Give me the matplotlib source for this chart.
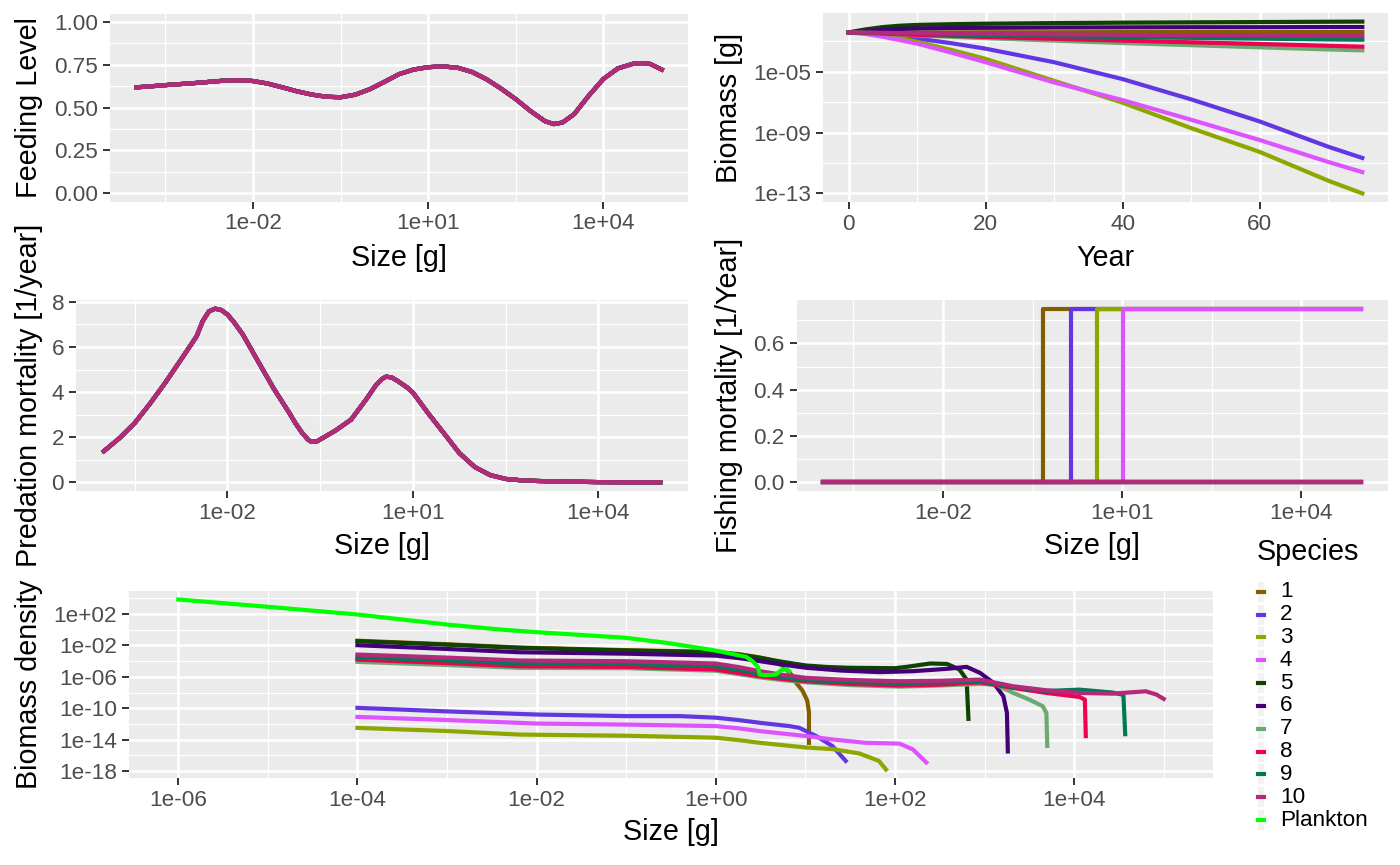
import numpy as np
import matplotlib
matplotlib.use("Agg")
import matplotlib.pyplot as plt
from matplotlib.patches import Rectangle
from matplotlib.lines import Line2D
from matplotlib.ticker import FixedLocator, FuncFormatter, NullFormatter

plt.rcParams['font.family'] = ['Liberation Sans', 'DejaVu Sans']

W, H = 1400, 865

species = ["1", "2", "3", "4", "5", "6", "7", "8", "9", "10"]
colours = ["#815F00", "#6237E2", "#8DA600", "#DE53FF", "#0E4300",
           "#430079", "#6CAA72", "#EE0053", "#007957", "#B42979"]
plankton_colour = "#00FF00"

# feeding level (same curve for every species), size as log10(w)
feed_logw = [-4.0, -3.75, -3.5, -3.25, -3.0, -2.75, -2.5, -2.25, -2.0, -1.75,
             -1.5, -1.25, -1.0, -0.75, -0.5, -0.25, 0.0, 0.25, 0.5, 0.75,
             1.0, 1.25, 1.5, 1.75, 2.0, 2.25, 2.5, 2.75, 3.0, 3.15,
             3.3, 3.5, 3.75, 4.0, 4.25, 4.5, 4.65, 4.8, 5.0]
feed_level = [0.618, 0.624, 0.631, 0.637, 0.643, 0.650, 0.657, 0.660, 0.655, 0.640,
              0.618, 0.595, 0.576, 0.563, 0.560, 0.575, 0.607, 0.650, 0.695, 0.722,
              0.736, 0.740, 0.733, 0.708, 0.665, 0.610, 0.549, 0.480, 0.420, 0.403,
              0.412, 0.461, 0.569, 0.667, 0.729, 0.755, 0.760, 0.755, 0.722]

# predation mortality
pred_logw = [-4.0, -3.75, -3.5, -3.25, -3.0, -2.75, -2.5, -2.4, -2.3, -2.2,
             -2.1, -2.0, -1.9, -1.75, -1.5, -1.25, -1.0, -0.9, -0.8, -0.7,
             -0.64, -0.55, -0.45, -0.25, 0.0, 0.25, 0.4, 0.5, 0.56, 0.65,
             0.75, 0.9, 1.0, 1.25, 1.5, 1.75, 2.0, 2.25, 2.5, 2.75,
             3.0, 3.5, 4.0, 4.5, 5.0]
pred_mort = [1.38, 1.95, 2.63, 3.50, 4.44, 5.45, 6.47, 7.15, 7.58, 7.70,
             7.64, 7.44, 7.12, 6.55, 5.34, 4.15, 3.08, 2.62, 2.22, 1.90,
             1.79, 1.82, 1.98, 2.30, 2.78, 3.70, 4.30, 4.58, 4.68, 4.66,
             4.50, 4.22, 3.98, 3.05, 2.18, 1.30, 0.68, 0.32, 0.15, 0.09,
             0.06, 0.03, 0.01, 0.0, 0.0]

# fishing mortality: knife-edge sizes (log10 g) for species 1-4
fish_knife = [-0.32, 0.137, 0.58, 1.01]
fish_level = 0.75
fish_range = [-4.0, 5.0]

# biomass through time, log10(g)
years = [0, 2.5, 5, 7.5, 10, 15, 20, 30, 40, 50, 60, 70, 75]
biomass = [
    [-2.42, -2.42, -2.42, -2.42, -2.42, -2.42, -2.41, -2.41, -2.40, -2.40, -2.40, -2.40, -2.40],
    [-2.42, -2.46, -2.55, -2.68, -2.82, -3.13, -3.49, -4.38, -5.49, -6.82, -8.27, -9.93, -10.67],
    [-2.42, -2.47, -2.60, -2.80, -3.04, -3.57, -4.16, -5.60, -7.04, -8.71, -10.27, -12.16, -13.00],
    [-2.42, -2.53, -2.71, -2.93, -3.16, -3.75, -4.38, -5.71, -6.87, -8.16, -9.49, -10.93, -11.60],
    [-2.42, -2.22, -2.07, -1.98, -1.93, -1.88, -1.85, -1.81, -1.78, -1.76, -1.74, -1.72, -1.71],
    [-2.42, -2.32, -2.25, -2.19, -2.16, -2.13, -2.12, -2.10, -2.09, -2.08, -2.08, -2.07, -2.07],
    [-2.42, -2.47, -2.52, -2.57, -2.62, -2.71, -2.80, -2.96, -3.12, -3.26, -3.40, -3.54, -3.60],
    [-2.42, -2.46, -2.50, -2.54, -2.58, -2.65, -2.72, -2.84, -2.96, -3.07, -3.18, -3.30, -3.36],
    [-2.42, -2.44, -2.47, -2.50, -2.52, -2.56, -2.60, -2.67, -2.73, -2.78, -2.83, -2.88, -2.90],
    [-2.42, -2.43, -2.45, -2.47, -2.48, -2.50, -2.52, -2.55, -2.58, -2.60, -2.62, -2.65, -2.66],
]

# biomass density spectra, log10(w) and log10(density)
dens_w1 = [-4, -3, -2.19, -1, 0, 0.25, 0.49, 0.6, 0.75, 0.85, 0.9, 0.97, 1.02, 1.04, 1.04]
dens_n1 = [-1.40, -1.85, -2.27, -2.60, -2.83, -3.1, -3.52, -3.8, -4.6, -5.8, -6.8, -7.8, -9.0, -10.5, -14.4]
dens_w2 = [-4, -3, -2, -1, -0.4, 0, 0.25, 0.49, 0.82, 0.93, 1.12, 1.3, 1.45]
dens_n2 = [-9.95, -10.4, -10.8, -11.0, -11.0, -11.2, -11.5, -11.85, -12.27, -12.48, -13.54, -14.8, -16.7]
dens_w3 = [-4, -3, -2.19, -1, 0, 0.25, 0.49, 1.01, 1.3, 1.6, 1.82, 1.9]
dens_n3 = [-12.5, -12.9, -13.35, -13.5, -13.75, -14.05, -14.4, -15.0, -15.2, -15.75, -16.7, -17.8]
dens_w4 = [-4, -3, -2, -1, 0, 0.25, 0.49, 1.01, 1.3, 1.67, 2.05, 2.2, 2.35]
dens_n4 = [-11.1, -11.5, -11.95, -12.08, -12.27, -12.55, -12.91, -13.54, -13.97, -14.4, -14.5, -15.24, -16.9]
dens_w5 = [-4, -3, -2.19, -1, 0, 0.25, 0.49, 0.75, 1.01, 1.25, 1.5, 2.0, 2.13, 2.39, 2.58, 2.72, 2.8, 2.82]
dens_n5 = [-1.46, -1.9, -2.31, -2.65, -2.87, -3.15, -3.58, -4.1, -4.56, -4.75, -4.85, -4.9, -4.73, -4.3, -4.35, -5.07, -6.35, -11.35]
dens_w6 = [-4, -3, -2.19, -1, 0, 0.25, 0.49, 0.75, 1.01, 1.4, 1.83, 2.2, 2.58, 2.8, 2.95, 3.1, 3.21, 3.25, 3.26]
dens_n6 = [-1.97, -2.45, -2.87, -3.05, -3.3, -3.6, -4.0, -4.45, -4.85, -5.2, -5.4, -5.28, -4.98, -4.73, -5.5, -6.77, -8.47, -10.6, -15.5]
dens_w7 = [-4, -3, -2.19, -1, 0, 0.25, 0.49, 0.75, 1.01, 1.5, 2.05, 2.5, 2.95, 3.13, 3.32, 3.5, 3.65, 3.69, 3.7]
dens_n7 = [-4.09, -4.5, -4.86, -4.9, -5.22, -5.65, -6.07, -6.42, -6.7, -7.05, -7.25, -7.1, -6.9, -7.0, -8.05, -8.9, -9.74, -10.6, -14.8]
dens_w8 = [-4, -3, -2.19, -1, 0, 0.25, 0.49, 0.75, 1.01, 1.5, 2.05, 2.5, 2.95, 3.32, 3.69, 4.06, 4.12, 4.13]
dens_n8 = [-3.8, -4.25, -4.65, -4.73, -5.07, -5.5, -5.92, -6.28, -6.56, -6.9, -7.11, -7.0, -6.7, -7.42, -8.05, -8.56, -8.9, -13.54]
dens_w9 = [-4, -3, -2.19, -1, 0, 0.25, 0.49, 0.75, 1.01, 1.5, 2.05, 2.5, 2.95, 3.32, 3.69, 4.06, 4.43, 4.55, 4.57]
dens_n9 = [-3.5, -3.9, -4.3, -4.35, -4.65, -5.1, -5.6, -6.05, -6.4, -6.65, -6.8, -6.7, -6.55, -7.3, -7.8, -7.63, -8.0, -8.3, -13.3]
dens_w10 = [-4, -3, -2.19, -1, 0, 0.25, 0.49, 0.75, 1.01, 1.5, 2.05, 2.5, 2.95, 3.32, 3.69, 4.06, 4.43, 4.8, 4.92, 5.0]
dens_n10 = [-3.16, -3.55, -3.92, -4.01, -4.3, -4.75, -5.28, -5.75, -6.13, -6.4, -6.56, -6.5, -6.35, -7.2, -7.71, -8.05, -8.14, -7.84, -8.26, -8.81]
plank_w = [-6, -5, -4, -3, -2.41, -2, -1, -0.55, 0, 0.34, 0.41, 0.47, 0.49, 0.56, 0.67, 0.73, 0.78, 0.82]
plank_n = [3.85, 2.92, 1.94, 0.66, 0.03, -0.31, -1.03, -1.67, -2.65, -3.46, -4.01, -4.73, -5.7, -5.79, -5.7, -5.15, -4.98, -5.28]

dens_w = [dens_w1, dens_w2, dens_w3, dens_w4, dens_w5, dens_w6, dens_w7, dens_w8, dens_w9, dens_w10]
dens_n = [dens_n1, dens_n2, dens_n3, dens_n4, dens_n5, dens_n6, dens_n7, dens_n8, dens_n9, dens_n10]

LW = 3.0
TITLE = 20.7
TICK = 16.2

fig = plt.figure(figsize=(W / 100, H / 100), dpi=100)


def panel(x0, y0, x1, y1):
    ax = fig.add_axes([x0 / W, 1 - y1 / H, (x1 - x0) / W, (y1 - y0) / H])
    ax.set_facecolor("#EBEBEB")
    for s in ax.spines.values():
        s.set_visible(False)
    ax.set_axisbelow(True)
    ax.grid(which='major', color='white', lw=1.8)
    ax.grid(which='minor', color='white', lw=0.9)
    ax.tick_params(which='major', length=5, width=1.4, color='#333333',
                   labelsize=TICK, labelcolor='#4D4D4D', pad=3.5)
    ax.tick_params(which='minor', length=0)
    return ax


def expand(lo, hi):
    d = (hi - lo) * 0.05
    return lo - d, hi + d


def setup_log(ax, which, lo, hi, majors, minors):
    a, b = expand(lo, hi)
    if which == 'x':
        ax.set_xscale('log')
        ax.set_xlim(10.0 ** a, 10.0 ** b)
        axis = ax.xaxis
    else:
        ax.set_yscale('log')
        ax.set_ylim(10.0 ** a, 10.0 ** b)
        axis = ax.yaxis
    axis.set_major_locator(FixedLocator([10.0 ** m for m in majors]))
    axis.set_minor_locator(FixedLocator([10.0 ** m for m in minors]))
    axis.set_major_formatter(FuncFormatter(lambda v, p: f"{v:.0e}"))
    axis.set_minor_formatter(NullFormatter())


def setup_lin(ax, which, lo, hi, majors, minors, fmt):
    a, b = expand(lo, hi)
    axis = ax.xaxis if which == 'x' else ax.yaxis
    (ax.set_xlim if which == 'x' else ax.set_ylim)(a, b)
    axis.set_major_locator(FixedLocator(majors))
    axis.set_minor_locator(FixedLocator(minors))
    axis.set_major_formatter(FuncFormatter(lambda v, p: fmt.format(v)))


def label(x, y, s, rot=0):
    fig.text(x / W, 1 - y / H, s, rotation=rot, ha='center', va='center',
             fontsize=TITLE, color='black')


# --- feeding level ---
ax1 = panel(110, 13.5, 688, 201.5)
for c in colours:
    ax1.plot(10.0 ** np.array(feed_logw), feed_level, color=c, lw=LW)
setup_log(ax1, 'x', -4, 5, [-2, 1, 4], [-3.5, -0.5, 2.5])
setup_lin(ax1, 'y', 0, 1, [0, 0.25, 0.5, 0.75, 1.0], [0.125, 0.375, 0.625, 0.875], "{:.2f}")
label(399, 258, "Size [g]")
label(29, 107.5, "Feeding Level", 90)

# --- biomass through time ---
ax2 = panel(823, 13, 1388, 202)
for b, c in zip(biomass, colours):
    ax2.plot(years, 10.0 ** np.array(b), color=c, lw=LW)
setup_lin(ax2, 'x', 0, 75, [0, 20, 40, 60], [10, 30, 50, 70], "{:.0f}")
allb = np.concatenate(biomass)
setup_log(ax2, 'y', allb.min(), allb.max(), [-5, -9, -13], [-3, -7, -11])
label(1105.5, 258, "Year")
label(729, 107.5, "Biomass [g]", 90)

# --- predation mortality ---
ax3 = panel(76, 300, 688, 491)
for c in colours:
    ax3.plot(10.0 ** np.array(pred_logw), pred_mort, color=c, lw=LW)
setup_log(ax3, 'x', -4, 5, [-2, 1, 4], [-3.5, -0.5, 2.5])
setup_lin(ax3, 'y', 0, max(pred_mort), [0, 2, 4, 6, 8], [1, 3, 5, 7], "{:.0f}")
label(382, 546, "Size [g]")
label(29, 395.5, "Predation mortality [1/year]", 90)

# --- fishing mortality ---
ax4 = panel(796.5, 300, 1388, 491)
for i, c in enumerate(colours):
    if i < len(fish_knife):
        k = fish_knife[i]
        xs = [fish_range[0], k, k, fish_range[1]]
        ys = [0, 0, fish_level, fish_level]
    else:
        xs = fish_range
        ys = [0, 0]
    ax4.plot(10.0 ** np.array(xs), ys, color=c, lw=LW)
setup_log(ax4, 'x', -4, 5, [-2, 1, 4], [-3.5, -0.5, 2.5])
setup_lin(ax4, 'y', 0, fish_level, [0, 0.2, 0.4, 0.6], [0.1, 0.3, 0.5, 0.7], "{:.1f}")
label(1092, 546, "Size [g]")
label(729, 395.5, "Fishing mortality [1/Year]", 90)

# --- biomass density spectra ---
ax5 = panel(129, 591, 1213, 778)
for w, n, c in zip(dens_w, dens_n, colours):
    ax5.plot(10.0 ** np.array(w), 10.0 ** np.array(n), color=c, lw=LW)
ax5.plot(10.0 ** np.array(plank_w), 10.0 ** np.array(plank_n), color=plankton_colour, lw=LW)
allw = np.concatenate(dens_w + [plank_w])
alln = np.concatenate(dens_n + [plank_n])
setup_log(ax5, 'x', allw.min(), allw.max(), [-6, -4, -2, 0, 2, 4], [-5, -3, -1, 1, 3, 5])
setup_log(ax5, 'y', alln.min(), alln.max(), [2, -2, -6, -10, -14, -18], [4, 0, -4, -8, -12, -16])
label(671, 832, "Size [g]")
label(29, 684.5, "Biomass density", 90)

# --- legend ---
fig.text(1256.7 / W, 1 - 551.7 / H, "Species", ha='left', va='center', fontsize=TITLE)
leg_names = species + ["Plankton"]
leg_cols = colours + [plankton_colour]
for i, (nm, c) in enumerate(zip(leg_names, leg_cols)):
    yc = 591.7 + i * 22.83
    fig.add_artist(Rectangle((1257.5 / W, 1 - (yc + 10) / H), 6 / W, 20 / H,
                             transform=fig.transFigure, color='#F2F2F2', lw=0))
    fig.add_artist(Line2D([1257.5 / W, 1263.5 / W], [1 - yc / H, 1 - yc / H],
                          transform=fig.transFigure, color=c, lw=3))
    fig.text(1280 / W, 1 - yc / H, nm, ha='left', va='center', fontsize=TICK)

fig.savefig("out.png", dpi=100, facecolor='white')
